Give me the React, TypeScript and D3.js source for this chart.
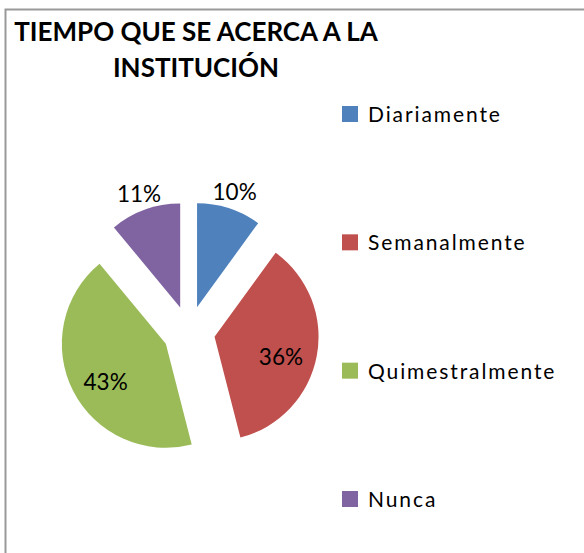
import React from "react";
import * as d3 from "d3";

const categories = ["Diariamente", "Semanalmente", "Quimestralmente", "Nunca"];
const values = [10, 36, 43, 11];
const colors = ["#4F81BD", "#C0504D", "#9BBB59", "#8064A2"];
const titleLines = ["TIEMPO QUE SE ACERCA A LA", "INSTITUCIÓN"];

const W = 584;
const H = 553;
const cx = 189;
const cy = 332;
const R = 104;
const explode = 26;
const font = "Lato, 'Open Sans', sans-serif";

export default function App() {
  const pie = d3.pie<number>().sort(null).value((d) => d);
  const arcs = pie(values);
  const arc = d3.arc<d3.PieArcDatum<number>>().innerRadius(0).outerRadius(R);
  const total = d3.sum(values);
  const inLabel = d3.arc<d3.PieArcDatum<number>>().innerRadius(R * 0.65).outerRadius(R * 0.65);
  const outLabel = d3.arc<d3.PieArcDatum<number>>().innerRadius(R * 1.17).outerRadius(R * 1.17);
  const legendY = d3.scaleLinear().domain([0, categories.length - 1]).range([122, 507]);

  return (
    <svg
      width={W}
      height={H}
      style={{ position: "fixed", left: 0, top: 0, background: "#fff" }}
    >
      <rect x={0} y={0} width={W} height={H} fill="#fff" />
      <rect x={5.5} y={9.5} width={W + 20} height={H + 20} fill="none" stroke="#999" strokeWidth={2} />
      {titleLines.map((t, i) => (
        <text
          key={t}
          x={196}
          y={41 + i * 36}
          textAnchor="middle"
          fontFamily={font}
          fontWeight="bold"
          fontSize={26}
          fill="#000"
        >
          {t}
        </text>
      ))}
      {arcs.map((a, i) => {
        const mid = (a.startAngle + a.endAngle) / 2;
        const dx = Math.sin(mid) * explode;
        const dy = -Math.cos(mid) * explode;
        const pct = (a.data / total) * 100;
        const outside = pct < 15;
        const lab = outside ? outLabel : inLabel;
        const [lx, ly] = lab.centroid(a);
        return (
          <g key={categories[i]} transform={`translate(${cx + dx},${cy + dy})`}>
            <path d={arc(a) || ""} fill={colors[i]} />
            <text
              x={lx}
              y={ly + (outside ? 0 : 7)}
              textAnchor="middle"
              dominantBaseline="central"
              fontFamily={font}
              fontSize={22.5}
              fill="#000"
            >
              {Math.round(pct)}%
            </text>
          </g>
        );
      })}
      {categories.map((c, i) => (
        <g key={c}>
          <rect x={342} y={legendY(i) - 16} width={16} height={16} fill={colors[i]} />
          <text
            x={368}
            y={legendY(i)}
            fontFamily={font}
            fontSize={21}
            letterSpacing={1.9}
            fill="#000"
          >
            {c}
          </text>
        </g>
      ))}
    </svg>
  );
}
